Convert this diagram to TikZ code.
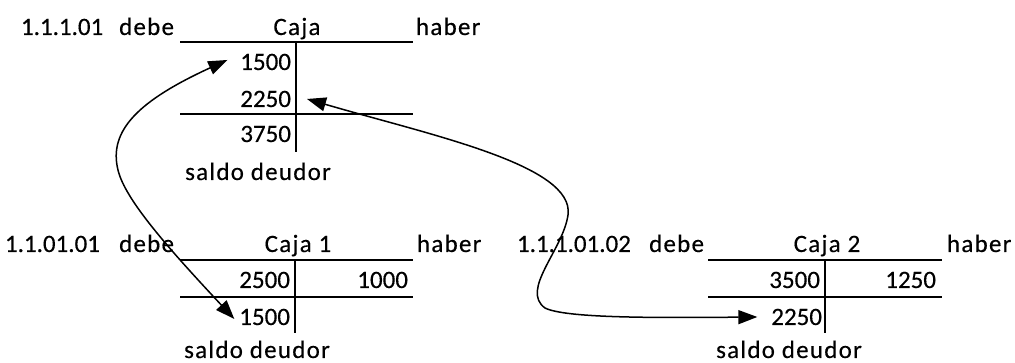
\documentclass[tikz,border=0pt]{standalone}
\usepackage{fontspec}
\setmainfont[FakeBold=0.3]{Carlito}
\newfontfamily\wordfont[LetterSpace=5,FakeBold=0.3]{Carlito}
\usetikzlibrary{arrows.meta,calc}

\tikzset{
  num/.style={inner sep=0pt, outer sep=0pt, font=\fontsize{25}{30}\selectfont},
  txt/.style={inner sep=0pt, outer sep=0pt, font=\fontsize{25}{30}\wordfont},
  rule/.style={line width=2pt},
  tip/.tip={Triangle[length=19pt,width=14pt]},
  link/.style={line width=1.5pt, tip-tip}
}

\begin{document}
\begin{tikzpicture}[x=1pt,y=-1pt]
\useasboundingbox (0,0) rectangle (1015,363);

% ---- Caja (1.1.1.01) ----
\node[num,anchor=base west] (codeA) at (21,35) {1.1.1.01};
\node[txt,anchor=base east] (debeA) at (174,35) {debe};
\node[txt,anchor=base] (titA) at (297,35) {Caja};
\node[txt,anchor=base west] (habA) at (416,35) {haber};
\draw[rule] (180,42) -- (413,42);
\draw[rule] (180,114) -- (413,114);
\draw[rule] (296,42) -- (296,152);
\node[num,anchor=base east] (a1500) at (291,70) {1500};
\node[num,anchor=base east] (a2250) at (291,107) {2250};
\node[num,anchor=base east] (a3750) at (291,142) {3750};
\node[txt,anchor=base] (saldoA) at (258,180) {saldo deudor};

% ---- Caja 1 (1.1.01.01) ----
\node[num,anchor=base west] (codeB) at (5,252) {1.1.01.01};
\node[txt,anchor=base east] (debeB) at (174,252) {debe};
\node[txt,anchor=base] (titB) at (298,252) {Caja 1};
\node[txt,anchor=base west] (habB) at (417,252) {haber};
\draw[rule] (180,260) -- (413,260);
\draw[rule] (180,297) -- (413,297);
\draw[rule] (295,260) -- (295,333);
\node[num,anchor=base east] (b2500) at (290,288) {2500};
\node[num,anchor=base east] (b1000) at (408,288) {1000};
\node[num,anchor=base east] (b1500) at (290,325) {1500};
\node[txt,anchor=base] (saldoB) at (257,358) {saldo deudor};

% ---- Caja 2 (1.1.1.01.02) ----
\node[num,anchor=base west] (codeC) at (517,252) {1.1.1.01.02};
\node[txt,anchor=base east] (debeC) at (704,252) {debe};
\node[txt,anchor=base] (titC) at (827,252) {Caja 2};
\node[txt,anchor=base west] (habC) at (947,252) {haber};
\draw[rule] (708,260) -- (942,260);
\draw[rule] (708,297) -- (942,297);
\draw[rule] (825,260) -- (825,333);
\node[num,anchor=base east] (c3500) at (820,288) {3500};
\node[num,anchor=base east] (c1250) at (936,288) {1250};
\node[num,anchor=base east] (c2250) at (822,325) {2250};
\node[txt,anchor=base] (saldoC) at (789,358) {saldo deudor};

% ---- transfers between the accounts ----
\draw[link] ($(a1500.west)+(-13,-2)$)
  .. controls (140,100) and (108,130) .. (118,170)
  .. controls (125,200) and (170,250) .. ($(b1500.west)+(-5,2)$);
\draw[link] ($(c2250.west)+(-14,0)$)
  .. controls (650,318) and (565,318) .. (545,308)
  .. controls (520,290) and (563,250) .. (568,215)
  .. controls (575,165) and (430,135) .. ($(a2250.east)+(16,0)$);
\end{tikzpicture}
\end{document}
